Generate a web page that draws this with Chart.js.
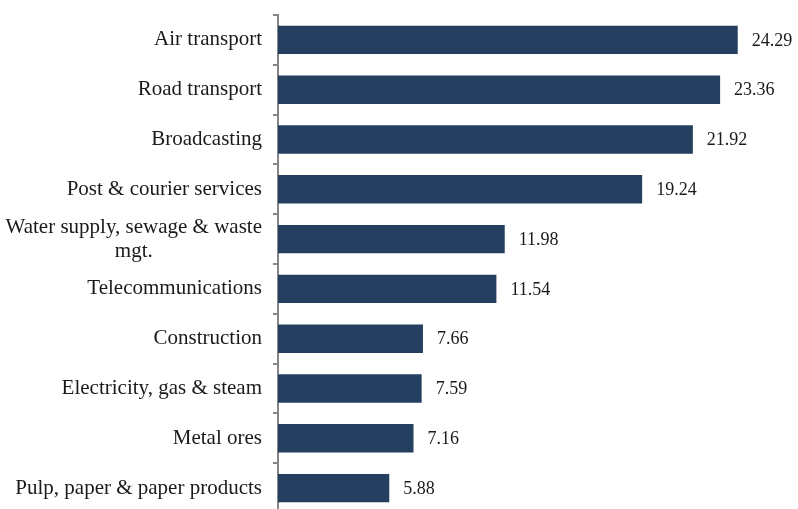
<!DOCTYPE html>
<html>
<head>
<meta charset="utf-8">
<script src="https://cdn.jsdelivr.net/npm/chart.js@4/dist/chart.umd.min.js"></script>
<style>
html,body{margin:0;padding:0;background:#fff;overflow:hidden;}
#wrap{width:798px;height:509px;overflow:hidden;}
</style>
</head>
<body>
<div id="wrap"><canvas id="c" width="798" height="514"></canvas></div>
<script>
const categories = [
  ["Air transport"],
  ["Road transport"],
  ["Broadcasting"],
  ["Post & courier services"],
  ["Water supply, sewage & waste", "mgt."],
  ["Telecommunications"],
  ["Construction"],
  ["Electricity, gas & steam"],
  ["Metal ores"],
  ["Pulp, paper & paper products"]
];
const values = [24.29, 23.36, 21.92, 19.24, 11.98, 11.54, 7.66, 7.59, 7.16, 5.88];

const labelFont = '21px "Liberation Serif", "DejaVu Serif", serif';
const valueFont = '18px "Liberation Serif", "DejaVu Serif", serif';

const drawLabels = {
  id: 'drawLabels',
  afterDatasetsDraw(chart) {
    const ctx = chart.ctx;
    const y = chart.scales.y;
    const meta = chart.getDatasetMeta(0);
    ctx.save();
    ctx.fillStyle = '#1a1a1a';
    ctx.font = labelFont;
    ctx.textBaseline = 'middle';
    categories.forEach((lines, i) => {
      const cy = y.getPixelForValue(i);
      const lh = 24;
      if (lines.length === 1) {
        ctx.textAlign = 'right';
        ctx.fillText(lines[0], 262, cy);
      } else {
        ctx.textAlign = 'right';
        const w0 = ctx.measureText(lines[0]).width;
        ctx.fillText(lines[0], 262, cy - lh / 2);
        ctx.textAlign = 'center';
        ctx.fillText(lines[1], 262 - w0 / 2, cy + lh / 2);
      }
    });
    ctx.font = valueFont;
    ctx.textAlign = 'left';
    meta.data.forEach((bar, i) => {
      ctx.fillText(values[i].toFixed(2), bar.x + 14, bar.y + 1);
    });
    ctx.restore();
  }
};

new Chart(document.getElementById('c'), {
  type: 'bar',
  data: {
    labels: categories.map(l => l.join(' ')),
    datasets: [{
      data: values,
      backgroundColor: '#253f60',
      borderWidth: 0,
      categoryPercentage: 1,
      barPercentage: 0.57
    }]
  },
  options: {
    indexAxis: 'y',
    responsive: false,
    animation: false,
    layout: { padding: { top: 15, right: 9, bottom: 1, left: 0 } },
    plugins: { legend: { display: false }, tooltip: { enabled: false } },
    scales: {
      x: { display: false, min: 0, max: 27 },
      y: {
        ticks: { display: false },
        grid: { display: true, drawOnChartArea: false, drawTicks: true, tickLength: 5, color: '#868686', lineWidth: 2 },
        border: { display: true, color: '#868686', width: 2 },
        afterFit(s) { s.width = 278; }
      }
    }
  },
  plugins: [drawLabels]
});
</script>
</body>
</html>
